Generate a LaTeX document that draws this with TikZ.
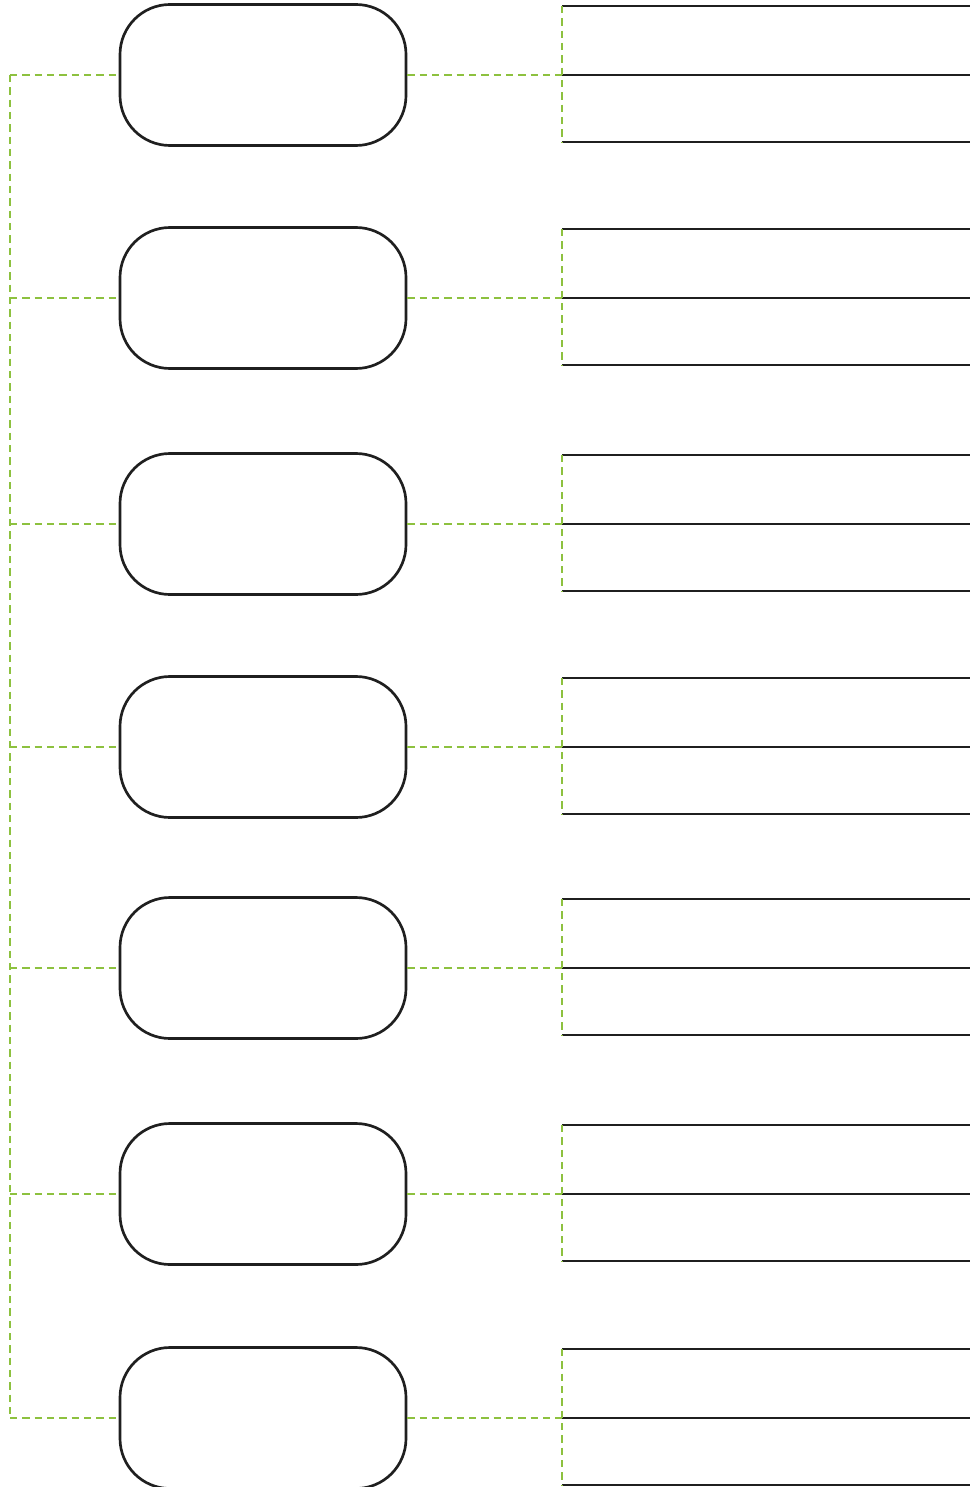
\documentclass[tikz,border=0pt]{standalone}
\usepackage{tikz}
\usetikzlibrary{positioning}
\definecolor{leafgreen}{RGB}{141,193,63}
\tikzset{
  topicbox/.style={draw=black!88, line width=2pt, rounded corners=37.5pt,
    minimum width=214.5pt, minimum height=105.75pt, inner sep=0pt},
  guide/.style={draw=leafgreen, line width=1.7pt, dash pattern=on 5.5pt off 3.75pt},
  noteline/.style={draw=black!88, line width=1.8pt}
}
\begin{document}
\begin{tikzpicture}[x=0.75pt, y=-0.75pt]
\useasboundingbox (0,0) rectangle (975,1487);
% Spine on the left
\coordinate (spinetop) at (10,75);
\coordinate (spinebot) at (10,1418);
\draw[guide] (spinetop) -- (spinebot);
% Boxes with their three note lines
\foreach \i/\y in {1/75,2/298,3/524,4/747,5/968,6/1194,7/1418} {
  \node[topicbox] (box\i) at (263,\y) {};
  \coordinate (spine\i) at (10,\y);
  \coordinate (forktop\i) at (562,\y-69);
  \coordinate (fork\i) at (562,\y);
  \coordinate (forkbot\i) at (562,\y+67);
  \coordinate (endtop\i) at (970,\y-69);
  \coordinate (end\i) at (970,\y);
  \coordinate (endbot\i) at (970,\y+67);
  \draw[noteline] (forktop\i) -- (endtop\i);
  \draw[noteline] (fork\i) -- (end\i);
  \draw[noteline] (forkbot\i) -- (endbot\i);
  % Dashed links
  \draw[guide] (spine\i) -- (box\i.west);
  \draw[guide] (box\i.east) -- (fork\i);
  \draw[guide] (forktop\i) -- (forkbot\i);
}
\end{tikzpicture}
\end{document}
